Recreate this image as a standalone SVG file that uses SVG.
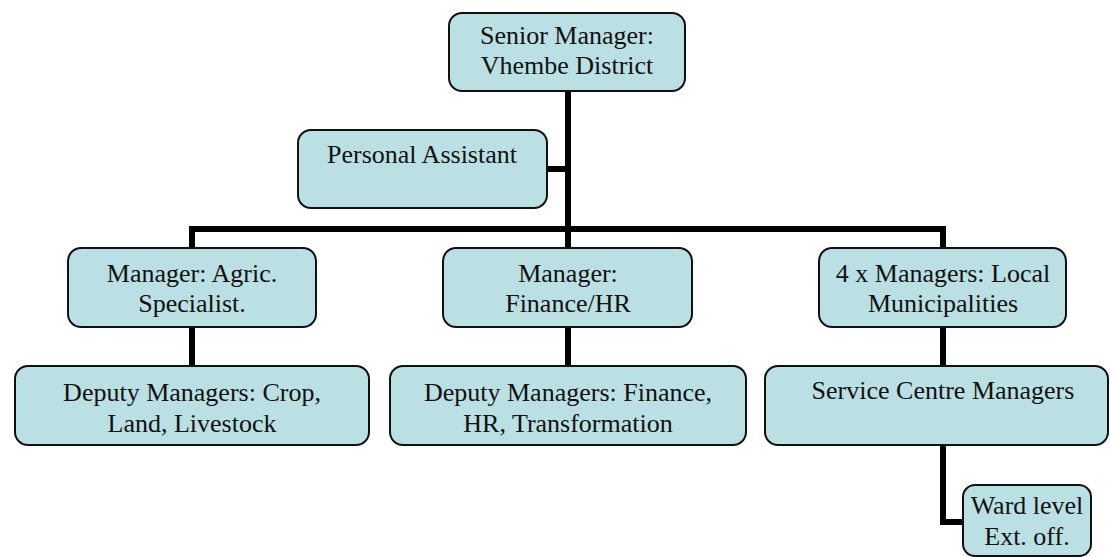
<svg xmlns="http://www.w3.org/2000/svg" width="1110" height="557" viewBox="0 0 1110 557">
<style>
.box{fill:#bae0e3;stroke:#111;stroke-width:2}
.t{font-size:26px;fill:#111;text-anchor:middle}
.c{stroke:#000;stroke-width:6;fill:none;stroke-linejoin:miter}
</style>
<rect width="1110" height="557" fill="#fff"/>
<g id="connectors">
<path class="c" d="M568 91 V248"/>
<path class="c" d="M547 169 H568"/>
<path class="c" d="M192 248 V229 H943 V248"/>
<path class="c" d="M192 327 V367"/>
<path class="c" d="M568 327 V367"/>
<path class="c" d="M943 327 V367"/>
<path class="c" d="M943 445 V522 H963"/>
</g>
<g font-family="Liberation Serif, DejaVu Serif, serif">
<g id="senior">
<rect class="box" x="449" y="13" width="236" height="78" rx="13"/>
<text class="t" x="567" y="44">Senior Manager:</text>
<text class="t" x="567" y="74">Vhembe District</text>
</g>
<g id="assistant">
<rect class="box" x="298" y="130" width="249" height="78" rx="13"/>
<text class="t" x="422" y="163">Personal Assistant</text>
</g>
<g id="agric">
<rect class="box" x="68" y="248" width="248" height="79" rx="13"/>
<text class="t" x="192" y="282">Manager: Agric.</text>
<text class="t" x="192" y="312">Specialist.</text>
</g>
<g id="finance">
<rect class="box" x="443" y="248" width="249" height="79" rx="13"/>
<text class="t" x="568" y="282">Manager:</text>
<text class="t" x="568" y="312">Finance/HR</text>
</g>
<g id="local">
<rect class="box" x="819" y="248" width="247" height="79" rx="13"/>
<text class="t" x="943" y="282">4 x Managers: Local</text>
<text class="t" x="943" y="312">Municipalities</text>
</g>
<g id="deputy-crop">
<rect class="box" x="15" y="366" width="354" height="79" rx="13"/>
<text class="t" x="192" y="401">Deputy Managers: Crop,</text>
<text class="t" x="192" y="432">Land, Livestock</text>
</g>
<g id="deputy-finance">
<rect class="box" x="390" y="366" width="356" height="79" rx="13"/>
<text class="t" x="568" y="401">Deputy Managers: Finance,</text>
<text class="t" x="568" y="432">HR, Transformation</text>
</g>
<g id="service">
<rect class="box" x="765" y="366" width="343" height="79" rx="13"/>
<text class="t" x="943" y="399">Service Centre Managers</text>
</g>
<g id="ward">
<rect class="box" x="963" y="485" width="128" height="71" rx="12"/>
<text class="t" x="1027" y="514">Ward level</text>
<text class="t" x="1027" y="545">Ext. off.</text>
</g>
</g>
</svg>
